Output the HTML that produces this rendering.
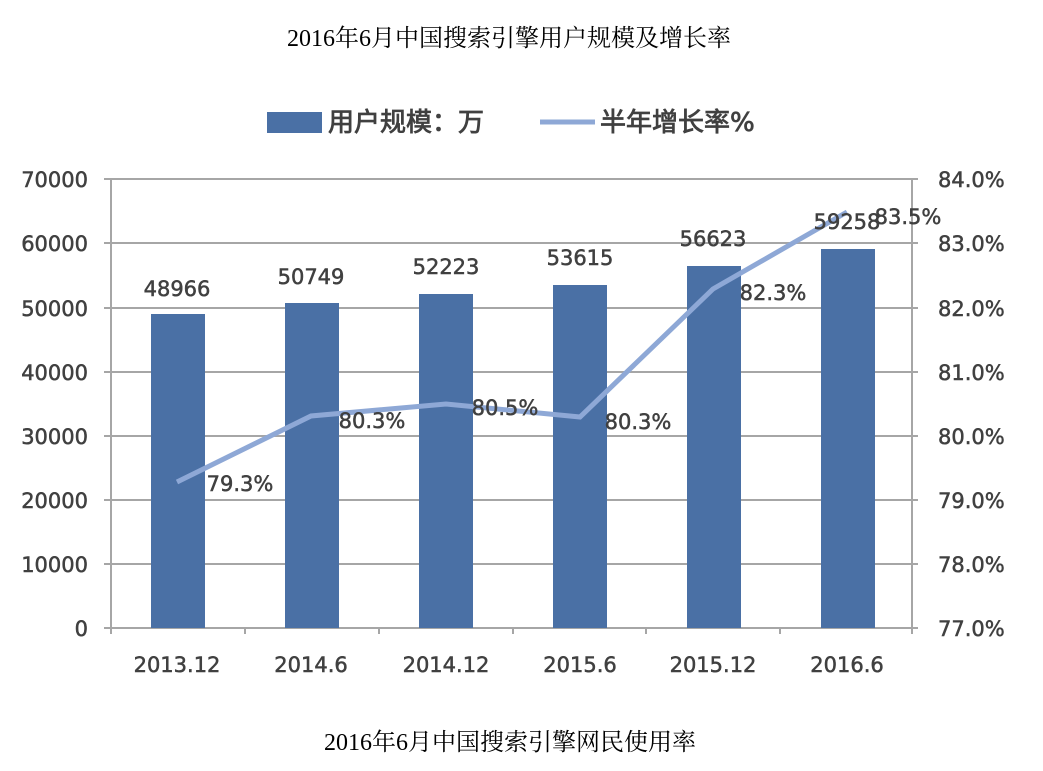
<!DOCTYPE html>
<html><head><meta charset="utf-8"><style>
body{margin:0;background:#fff;width:1043px;height:771px;overflow:hidden}
svg{display:block}
.t{font-family:"Liberation Serif","Noto Serif CJK SC",serif;font-size:24px;fill:#000}
.a{font-family:"DejaVu Sans","Noto Sans CJK SC",sans-serif;font-size:21px;fill:#404040;stroke:#404040;stroke-width:0.5}
.lg{font-size:26px;stroke-width:0.8}
</style></head><body>
<svg width="1043" height="771" viewBox="0 0 1043 771">
<text class="t" x="509" y="46" text-anchor="middle">2016年6月中国搜索引擎用户规模及增长率</text>
<text class="t" x="510" y="750" text-anchor="middle">2016年6月中国搜索引擎网民使用率</text>
<rect x="267" y="112" width="55" height="21" fill="#4a70a5"/>
<text class="a lg" x="328" y="131">用户规模：万</text>
<line x1="540" y1="122" x2="595" y2="122" stroke="#8ea8d6" stroke-width="5"/>
<text class="a lg" x="600" y="131">半年增长率%</text>
<g stroke="#a6a6a6" stroke-width="2">
<line x1="104" y1="179" x2="918" y2="179"/><line x1="104" y1="243" x2="918" y2="243"/>
<line x1="104" y1="308" x2="918" y2="308"/><line x1="104" y1="372" x2="918" y2="372"/>
<line x1="104" y1="436" x2="918" y2="436"/><line x1="104" y1="500" x2="918" y2="500"/>
<line x1="104" y1="564" x2="918" y2="564"/><line x1="104" y1="628" x2="918" y2="628"/>
<line x1="111" y1="179" x2="111" y2="634"/><line x1="912" y1="179" x2="912" y2="628"/>
<line x1="245" y1="628" x2="245" y2="634"/><line x1="379" y1="628" x2="379" y2="634"/>
<line x1="513" y1="628" x2="513" y2="634"/><line x1="646" y1="628" x2="646" y2="634"/>
<line x1="780" y1="628" x2="780" y2="634"/><line x1="912" y1="628" x2="912" y2="634"/>
</g>
<g fill="#4a70a5">
<rect x="151" y="314" width="54" height="314"/>
<rect x="285" y="303" width="54" height="325"/>
<rect x="419" y="294" width="54" height="334"/>
<rect x="553" y="285" width="54" height="343"/>
<rect x="687" y="266" width="54" height="362"/>
<rect x="821" y="249" width="54" height="379"/>
</g>
<polyline points="177,482 311,416 446,404 580,417 713,289 847,212" fill="none" stroke="#8ea8d6" stroke-width="5"/>
<g class="a" text-anchor="middle">
<text x="177" y="296">48966</text><text x="311" y="284">50749</text><text x="446" y="274">52223</text>
<text x="580" y="265">53615</text><text x="713" y="246">56623</text><text x="847" y="229">59258</text>
<text x="240" y="491">79.3%</text><text x="372" y="428">80.3%</text><text x="505" y="415">80.5%</text>
<text x="638" y="429">80.3%</text><text x="773" y="300">82.3%</text><text x="908" y="224">83.5%</text>
</g>
<g class="a" text-anchor="end">
<text x="88" y="187">70000</text><text x="88" y="251">60000</text><text x="88" y="316">50000</text>
<text x="88" y="380">40000</text><text x="88" y="444">30000</text><text x="88" y="508">20000</text>
<text x="88" y="572">10000</text><text x="88" y="636">0</text>
</g>
<g class="a">
<text x="938" y="187">84.0%</text><text x="938" y="251">83.0%</text><text x="938" y="316">82.0%</text>
<text x="938" y="380">81.0%</text><text x="938" y="444">80.0%</text><text x="938" y="508">79.0%</text>
<text x="938" y="572">78.0%</text><text x="938" y="636">77.0%</text>
</g>
<g class="a" text-anchor="middle">
<text x="177" y="672">2013.12</text><text x="311" y="672">2014.6</text><text x="446" y="672">2014.12</text>
<text x="580" y="672">2015.6</text><text x="713" y="672">2015.12</text><text x="847" y="672">2016.6</text>
</g>
</svg>
</body></html>
